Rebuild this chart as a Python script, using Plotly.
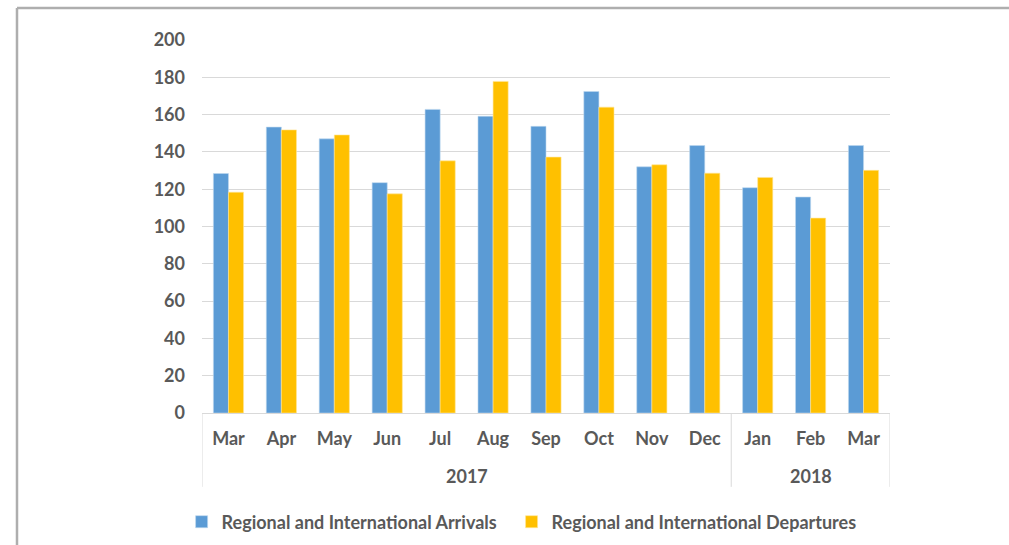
import plotly.graph_objects as go

years = ["2017", "2018"]
year_counts = [10, 3]
months = ["Mar", "Apr", "May", "Jun", "Jul", "Aug", "Sep", "Oct", "Nov", "Dec", "Jan", "Feb", "Mar"]
arrivals = [128.4, 153.3, 147.0, 123.5, 162.8, 159.1, 153.7, 172.4, 132.0, 143.4, 120.8, 115.8, 143.4]
departures = [118.4, 151.8, 149.1, 117.5, 135.2, 177.8, 137.2, 164.0, 133.1, 128.6, 126.3, 104.5, 130.1]
yticks = [0, 20, 40, 60, 80, 100, 120, 140, 160, 180, 200]

FONT = "Lato"
GRAY = "#595959"
SIZE = 18

xpos = list(range(len(months)))

fig = go.Figure()
fig.add_trace(go.Bar(x=xpos, y=arrivals, name="Regional and International Arrivals",
                     marker=dict(color="#5B9BD5", line=dict(color="#BDD7EE", width=0.6)),
                     legend="legend", showlegend=True))
fig.add_trace(go.Bar(x=xpos, y=departures, name="Regional and International Departures",
                     marker=dict(color="#FFC000", line=dict(color="#FFE699", width=0.6)),
                     legend="legend2", showlegend=True))

# group dividers and year labels derived from the year groups
shapes = []
annotations = []
start = 0
bounds = [start - 0.5]
for yr, cnt in zip(years, year_counts):
    end = start + cnt
    bounds.append(end - 0.5)
    annotations.append(dict(x=(start + end - 1) / 2, xref="x", y=-0.169, yref="paper",
                            text=yr, showarrow=False, xanchor="center", yanchor="middle",
                            font=dict(family=FONT, size=SIZE, color=GRAY, weight="bold")))
    start = end
for b in bounds:
    shapes.append(dict(type="line", xref="x", yref="paper", x0=b, x1=b, y0=0, y1=-0.198,
                       line=dict(color="#D9D9D9", width=1)))

# outer frame (top and left edges)
shapes.append(dict(type="line", xref="paper", yref="paper", x0=-0.2689, x1=1.2, y0=1.0858, y1=1.0858,
                   line=dict(color="#AEAEAE", width=2.5)))
shapes.append(dict(type="line", xref="paper", yref="paper", x0=-0.2689, x1=-0.2689, y0=1.0858, y1=-0.5,
                   line=dict(color="#AEAEAE", width=2.5)))

legend_common = dict(orientation="h", yref="container", y=0.0422, yanchor="middle", xref="container",
                     xanchor="left", font=dict(family=FONT, size=SIZE, color=GRAY, weight="bold"),
                     itemwidth=30, bgcolor="rgba(0,0,0,0)", visible=True)

fig.update_layout(
    width=1009, height=545,
    margin=dict(l=202, r=119, t=40, b=132),
    paper_bgcolor="white", plot_bgcolor="white",
    showlegend=True,
    barmode="group", bargap=0.43, bargroupgap=0,
    font=dict(family=FONT, size=SIZE, color=GRAY),
    legend=dict(x=0.18, **legend_common),
    legend2=dict(x=0.507, **legend_common),
    shapes=shapes,
    annotations=annotations,
)
fig.update_yaxes(range=[0, 200], tickvals=yticks, showgrid=True, gridcolor="#D9D9D9", gridwidth=1,
                 zeroline=False, showline=False, ticks="",
                 tickfont=dict(family=FONT, size=SIZE, color=GRAY, weight="bold"), ticklabelstandoff=16)
fig.update_xaxes(range=[-0.5, len(months) - 0.5], tickvals=xpos, ticktext=months,
                 showline=True, linecolor="#D9D9D9", linewidth=1, ticks="", showgrid=False, zeroline=False,
                 tickfont=dict(family=FONT, size=SIZE, color=GRAY, weight="bold"), ticklabelstandoff=9)

fig.write_html("out.html", config={"displayModeBar": False},
               post_script="document.body.style.margin='0';")
